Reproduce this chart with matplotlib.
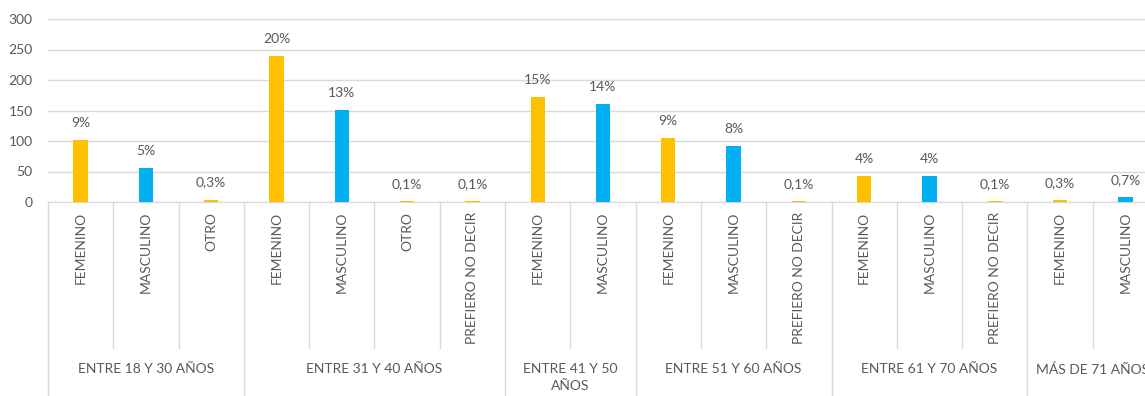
import numpy as np
import matplotlib.pyplot as plt
from matplotlib.lines import Line2D

# age groups and the answers given inside each of them
groups = [
    "ENTRE 18 Y 30 AÑOS",
    "ENTRE 31 Y 40 AÑOS",
    "ENTRE 41 Y 50\nAÑOS",
    "ENTRE 51 Y 60 AÑOS",
    "ENTRE 61 Y 70 AÑOS",
    "MÁS DE 71 AÑOS",
]
genders = [
    ["FEMENINO", "MASCULINO", "OTRO"],
    ["FEMENINO", "MASCULINO", "OTRO", "PREFIERO NO DECIR"],
    ["FEMENINO", "MASCULINO"],
    ["FEMENINO", "MASCULINO", "PREFIERO NO DECIR"],
    ["FEMENINO", "MASCULINO", "PREFIERO NO DECIR"],
    ["FEMENINO", "MASCULINO"],
]
counts = [
    [102, 56, 4],
    [239, 151, 1, 1],
    [172, 160],
    [105, 92, 1],
    [42, 42, 1],
    [3, 8],
]
y_ticks = [0, 50, 100, 150, 200, 250, 300]

colors = {"FEMENINO": "#FFC000", "MASCULINO": "#00B0F0"}
other_color = "#FFC000"
text_color = "#595959"
line_color = "#D9D9D9"

plt.rcParams["font.family"] = ["Lato", "DejaVu Sans"]

labels = [g for grp in genders for g in grp]
values = np.array([v for grp in counts for v in grp], dtype=float)
total = values.sum()
x = np.arange(len(values))


def pct_label(v):
    p = v / total * 100
    if p < 1:
        return f"{p:.1f}%".replace(".", ",")
    return f"{p:.0f}%"


fig = plt.figure(figsize=(11.45, 3.96), dpi=100)
ax = fig.add_axes([48 / 1145, 194 / 396, 1110 / 1145, 183 / 396])

bar_colors = [colors.get(lab, other_color) for lab in labels]
ax.bar(x, values, width=0.22, color=bar_colors, zorder=3)

for xi, v in zip(x, values):
    ax.annotate(pct_label(v), (xi, v), xytext=(0, 8), textcoords="offset points",
                ha="center", va="bottom", fontsize=10, color=text_color)

ax.set_xlim(-0.5, len(values) - 0.5)
ax.set_ylim(0, 300)
ax.set_yticks(y_ticks)
ax.tick_params(axis="y", length=0, labelsize=10, labelcolor=text_color, pad=11)
ax.set_xticks([])
ax.grid(axis="y", color=line_color, linewidth=1, zorder=0)
for side in ["top", "right", "left"]:
    ax.spines[side].set_visible(False)
ax.spines["bottom"].set_color(line_color)

trans = ax.get_xaxis_transform()

# category names under each bar
for xi, lab in zip(x, labels):
    ax.text(xi, -0.055, lab, transform=trans, rotation=90, ha="center", va="top",
            fontsize=10, color=text_color)

# separators: short ones between answers, long ones between age groups
start = 0
for gi, grp in enumerate(genders):
    left = start - 0.5
    ax.add_line(Line2D([left, left], [0, -1.1], transform=trans, color=line_color,
                       linewidth=1, clip_on=False))
    for k in range(1, len(grp)):
        xs = left + k
        ax.add_line(Line2D([xs, xs], [0, -0.80], transform=trans, color=line_color,
                           linewidth=1, clip_on=False))
    center = start + (len(grp) - 1) / 2
    ax.text(center, -0.88, groups[gi], transform=trans, ha="center", va="top",
            fontsize=10, color=text_color, linespacing=1.45)
    start += len(grp)

fig.text(0.70, 1.014, "Distribución por rango de edad y género", ha="center",
         va="baseline", fontsize=14, fontweight="bold", color="black")

fig.savefig("out.png", dpi=100)
